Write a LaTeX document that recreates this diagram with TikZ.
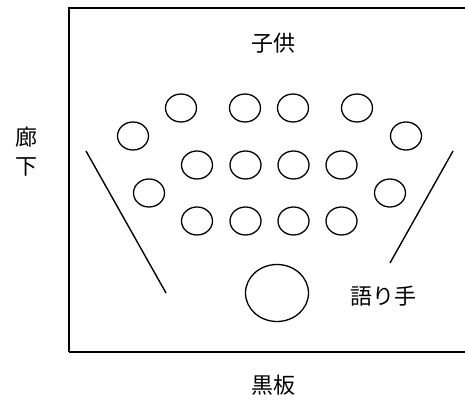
\documentclass[tikz,border=0pt]{standalone}
\usepackage{fontspec}
\newfontfamily\jp{Noto Sans CJK JP}
\usetikzlibrary{shapes.geometric}
\begin{document}
\begin{tikzpicture}[x=1pt,y=-1pt,
  seat/.style={draw,ellipse,line width=1.3pt,minimum width=31pt,minimum height=28pt,inner sep=0pt},
  teller/.style={draw,ellipse,line width=1.3pt,minimum width=63pt,minimum height=57pt,inner sep=0pt},
  lbl/.style={font=\jp\fontsize{22}{24}\selectfont,inner sep=0pt},
  wall/.style={line width=1.4pt}]
\useasboundingbox (0,0) rectangle (465,403);
\clip (0,0) rectangle (465,403);
\draw[line width=1.7pt] (69,352) -- (69,8) -- (470,8);
\draw[line width=1.7pt] (69,352) -- (470,352);
% top row
\node[seat] (a1) at (181,108) {};
\node[seat] (a2) at (245,108) {};
\node[seat] (a3) at (293,108) {};
\node[seat] (a4) at (357,108) {};
% sides
\node[seat] (l1) at (133,136) {};
\node[seat] (r1) at (406,136) {};
\node[seat] (l2) at (149,193) {};
\node[seat] (r2) at (390,193) {};
% middle row
\node[seat] (b1) at (197,165) {};
\node[seat] (b2) at (245.5,165) {};
\node[seat] (b3) at (293.5,165) {};
\node[seat] (b4) at (341.5,165) {};
% bottom row
\node[seat] (c1) at (197,221) {};
\node[seat] (c2) at (245.5,221) {};
\node[seat] (c3) at (293.5,221) {};
\node[seat] (c4) at (341.5,221) {};
% teller
\node[teller] (t) at (277,293) {};
% angled lines
\coordinate (p1) at (86,151);
\coordinate (p2) at (166,293);
\coordinate (q1) at (453,151);
\coordinate (q2) at (390,263);
\draw[wall] (p1) -- (p2);
\draw[wall] (q1) -- (q2);
% labels
\node[lbl] (kids) at (273,43) {子供};
\node[lbl] (tl) at (383,296) {語り手};
\node[lbl] (h1) at (26,137) {廊};
\node[lbl] (h2) at (26,167) {下};
\node[lbl] (bb) at (273,385) {黒板};
\end{tikzpicture}
\end{document}
